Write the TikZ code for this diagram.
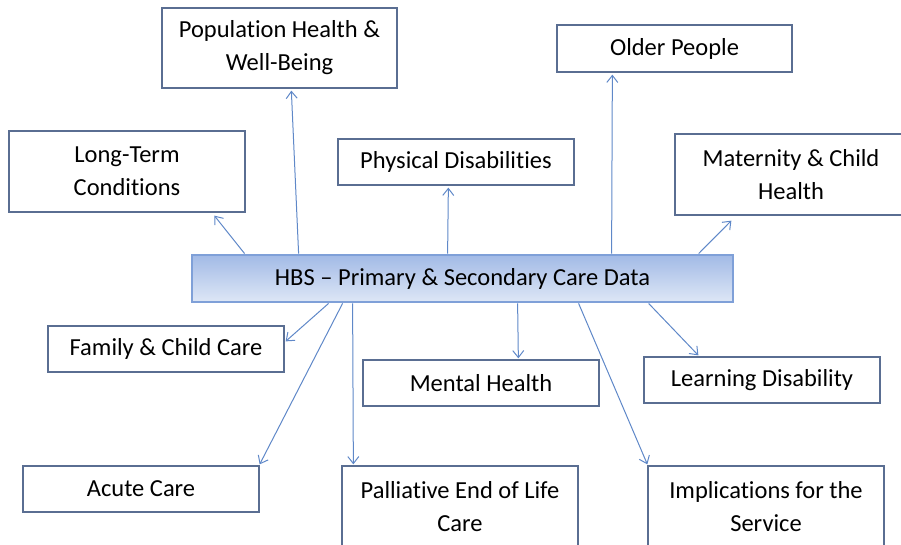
\documentclass[tikz,border=0pt]{standalone}
\usepackage{fontspec}
\setmainfont{Carlito}[Ligatures=NoCommon]
\usetikzlibrary{arrows.meta,calc}
\definecolor{boxline}{HTML}{5A6E92}
\definecolor{arrowcol}{HTML}{5F88C8}
\definecolor{hbsline}{HTML}{7FA0D8}
\definecolor{hbstop}{HTML}{A2BAE6}
\definecolor{hbsbot}{HTML}{DEE7F6}
\begin{document}
\begin{tikzpicture}[x=1pt,y=-1pt,
  box/.style={draw=boxline,line width=1.3pt,fill=white,align=center,inner sep=0pt,
    font=\fontsize{24.5}{33}\selectfont},
  hbsbox/.style={draw=hbsline,line width=2.8pt,top color=hbstop,bottom color=hbsbot,
    align=center,inner sep=0pt,font=\fontsize{24.5}{33}\selectfont,
    minimum width=541pt,minimum height=47pt},
  conn/.style={draw=arrowcol,line width=1pt,-{Straight Barb[length=7pt,width=11pt]}}]
\useasboundingbox (0,0) rectangle (901,544);

\node[hbsbox] (hbs) at (462.5,278.5) {HBS -- Primary \& Secondary Care Data};

\node[box,minimum width=235pt,minimum height=80pt] (pop) at (279.5,48) {Population Health \&\\Well-Being};
\node[box,minimum width=235pt,minimum height=47pt] (old) at (674.5,48.5) {Older People};
\node[box,minimum width=236pt,minimum height=81pt] (ltc) at (127,171.5) {Long-Term\\Conditions};
\node[box,minimum width=236pt,minimum height=46pt] (phys) at (456,162) {Physical Disabilities};
\node[box,minimum width=232pt,minimum height=81pt] (mat) at (791,174.5) {Maternity \& Child\\Health};

\node[box,minimum width=236pt,minimum height=46pt] (fam) at (166,349) {Family \& Child Care};
\node[box,minimum width=236pt,minimum height=46pt] (ment) at (481,383) {Mental Health};
\node[box,minimum width=236pt,minimum height=46pt] (learn) at (762,380) {Learning Disability};
\node[box,minimum width=236pt,minimum height=46pt] (acute) at (141,489) {Acute Care};
\node[box,minimum width=236pt,minimum height=82pt] (pall) at (460,507) {Palliative End of Life\\Care};
\node[box,minimum width=236pt,minimum height=82pt] (impl) at (766,507) {Implications for the\\Service};

% upward connectors
\draw[conn] ($(hbs.north west)+(54,0)$) -- ($(ltc.south west)+(206,3)$);
\draw[conn] ($(hbs.north west)+(108,0)$) -- ($(pop.south west)+(130,2)$);
\draw[conn] ($(hbs.north west)+(257,0)$) -- ($(phys.south west)+(111,2)$);
\draw[conn] ($(hbs.north west)+(421,0)$) -- ($(old.south west)+(56,2)$);
\draw[conn] ($(hbs.north west)+(508,0)$) -- ($(mat.south west)+(57,5)$);

% downward connectors
\draw[conn] ($(hbs.south west)+(138,0)$) -- ($(fam.north east)+(1,16)$);
\draw[conn] ($(hbs.south west)+(152,0)$) -- ($(acute.north east)+(0,-1)$);
\draw[conn] ($(hbs.south west)+(162,0)$) -- ($(pall.north west)+(12,-1)$);
\draw[conn] ($(hbs.south west)+(327,0)$) -- ($(ment.north west)+(156,-1)$);
\draw[conn] ($(hbs.south west)+(388,0)$) -- ($(impl.north west)+(0,-1)$);
\draw[conn] ($(hbs.south west)+(458,0)$) -- ($(learn.north west)+(55,-1)$);
\end{tikzpicture}
\end{document}
